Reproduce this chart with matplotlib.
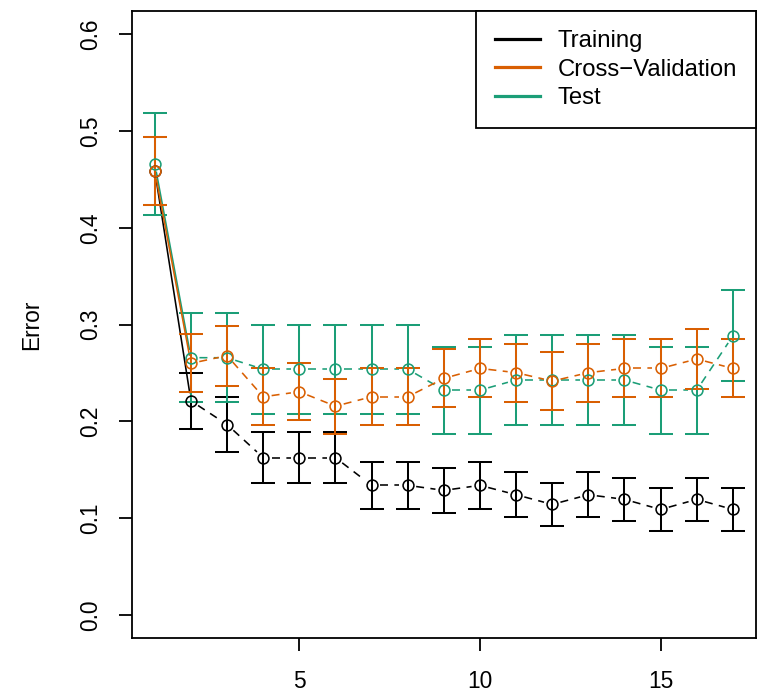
import numpy as np
import matplotlib
matplotlib.use("Agg")
import matplotlib.pyplot as plt
from matplotlib.lines import Line2D

plt.rcParams['font.family'] = ['Liberation Sans', 'DejaVu Sans']

# ---- data ----
n_trees = list(range(1, 18))
train_err = [0.4587, 0.2213, 0.1968, 0.1626, 0.1626, 0.1626, 0.1340, 0.1340, 0.1288,
             0.1340, 0.1243, 0.1143, 0.1243, 0.1195, 0.1091, 0.1195, 0.1091]
train_se = [0.035, 0.029, 0.028, 0.026, 0.026, 0.026, 0.024, 0.024, 0.023,
            0.024, 0.023, 0.022, 0.023, 0.022, 0.022, 0.022, 0.022]
cv_err = [0.4587, 0.2600, 0.2680, 0.2255, 0.2307, 0.2158, 0.2255, 0.2255, 0.2445,
          0.2548, 0.2504, 0.2417, 0.2504, 0.2548, 0.2548, 0.2645, 0.2548]
cv_se = [0.035, 0.030, 0.031, 0.0295, 0.0295, 0.0285, 0.0295, 0.0295, 0.030,
         0.030, 0.030, 0.030, 0.030, 0.030, 0.030, 0.0305, 0.030]
test_err = [0.4660, 0.2659, 0.2658, 0.2540, 0.2540, 0.2540, 0.2540, 0.2540, 0.2324,
            0.2324, 0.2428, 0.2428, 0.2428, 0.2428, 0.2324, 0.2324, 0.2884]
test_se = [0.053, 0.046, 0.046, 0.046, 0.046, 0.046, 0.046, 0.046, 0.045,
           0.045, 0.046, 0.046, 0.046, 0.046, 0.045, 0.045, 0.047]
labels = ["Training", "Cross\u2212Validation", "Test"]
colors = ["black", "#D95F02", "#1B9E77"]
yticks = [0.0, 0.1, 0.2, 0.3, 0.4, 0.5, 0.6]
xticks = [5, 10, 15]

FS = 16.4
LFS = 17.2
W, H = 758, 694
fig = plt.figure(figsize=(W / 100, H / 100), dpi=100)
ax = fig.add_axes([131.7 / W, 1 - 638.3 / H, (756 - 131.7) / W, (638.3 - 11) / H])
ax.set_xlim(0.36, 17.64)
ax.set_ylim(-0.024, 0.624)

series = [(train_err, train_se), (test_err, test_se), (cv_err, cv_se)]
scol = [colors[0], colors[2], colors[1]]

gap = 8.5  # pixels
x = np.array(n_trees, dtype=float)
for (err, se), col in zip(series, scol):
    y = np.array(err)
    ax.errorbar(x, y, yerr=np.array(se), fmt='none', ecolor=col, elinewidth=1.45,
                capsize=8.7, capthick=1.45, zorder=2)
    ax.plot(x, y, linestyle='none', marker='o', markersize=7.8,
            markerfacecolor='none', markeredgecolor=col, markeredgewidth=1.15, zorder=3)
    trans = ax.transData
    pts = trans.transform(np.column_stack([x, y]))
    inv = trans.inverted()
    for i in range(len(x) - 1):
        p0, p1 = pts[i], pts[i + 1]
        d = p1 - p0
        L = np.hypot(*d)
        if L <= 2 * gap:
            continue
        u = d / L
        q = inv.transform(np.array([p0 + u * gap, p1 - u * gap]))
        if i == 0:
            ax.plot(q[:, 0], q[:, 1], color=col, lw=1.15, linestyle='-', zorder=2)
        else:
            ax.plot(q[:, 0], q[:, 1], color=col, lw=1.15, dashes=(5, 4), zorder=2)

ax.set_xticks(xticks)
ax.set_xticklabels([str(t) for t in xticks], fontsize=FS)
ax.set_yticks(yticks)
ax.set_yticklabels([f"{t:.1f}" for t in yticks], fontsize=FS, rotation=90, va='center')
ax.tick_params(axis='both', direction='out', length=9.5, width=1.3, color='black')
ax.tick_params(axis='x', pad=13.5)
ax.tick_params(axis='y', pad=12)
for s in ax.spines.values():
    s.set_linewidth(1.3)
ax.set_ylabel("Error", fontsize=FS, labelpad=26)

handles = [Line2D([0], [0], color=c, lw=2.3) for c in colors]
leg = ax.legend(handles, labels, loc='upper right', borderaxespad=0, fontsize=LFS,
                frameon=True, fancybox=False, framealpha=1, edgecolor='black',
                handlelength=1.88, handletextpad=0.72, borderpad=0.8,
                labelspacing=0.27)
leg.get_frame().set_linewidth(1.3)

fig.savefig("out.png", dpi=100)
